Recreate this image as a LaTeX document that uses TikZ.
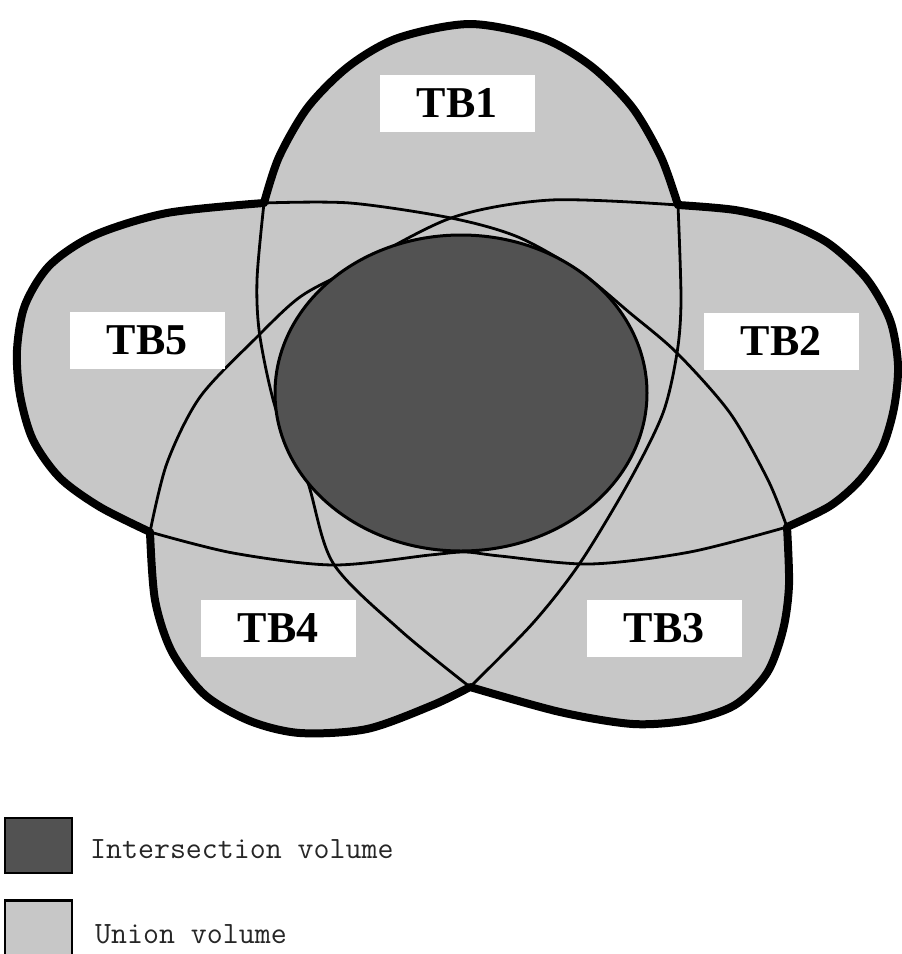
\documentclass[tikz,border=0pt]{standalone}
\usepackage{fontspec}
\usepackage{xcolor}
\usepackage{tikz}
\usetikzlibrary{positioning}
\newfontfamily\tbfont{Liberation Serif}
\definecolor{petal}{gray}{0.78}
\definecolor{coregray}{gray}{0.32}

\begin{document}
\begin{tikzpicture}[x=1pt,y=-1pt,
  rim/.style={draw=black,line width=8pt,line join=round,fill=petal},
  seam/.style={draw=black,line width=2.8pt},
  core/.style={draw=black,line width=3pt,fill=coregray},
  tag/.style={fill=white,inner sep=0pt,minimum width=155pt,minimum height=57pt,
    font=\tbfont\bfseries\fontsize{44}{50}\selectfont},
  swatch/.style={draw=black,line width=2.5pt,inner sep=0pt,minimum width=67pt,minimum height=55pt},
  keytext/.style={anchor=base west,inner sep=0pt,text=black!85,
    font=\ttfamily\fontsize{31}{36}\selectfont}]
\useasboundingbox (0,0) rectangle (902,954);
% crossings of the lobes on the rim
\coordinate (c1) at (264,203);
\coordinate (c2) at (678,205);
\coordinate (c3) at (787,527);
\coordinate (c4) at (470,687);
\coordinate (c5) at (150,532);
% union volume
\path[rim] plot[smooth] coordinates {(c1) (279,157) (308,107) (349,66) (398,38) (470,24) (542,38) (591,66) (632,107) (661,157) (c2)}
  -- plot[smooth] coordinates {(c2) (735,210) (784,222) (828,243) (866,278) (890,320) (898,365) (894,408) (882,448) (860,480) (830,506) (c3)}
  -- plot[smooth] coordinates {(c3) (789,585) (783,630) (767,673) (735,705) (690,720) (633,724) (560,712) (c4)}
  -- plot[smooth] coordinates {(c4) (433,705) (367,729) (300,733) (250,721) (205,695) (172,652) (155,600) (c5)}
  -- plot[smooth] coordinates {(c5) (100,507) (60,478) (33,440) (20,395) (17,350) (25,305) (50,265) (95,235) (167,213) (c1)}
  -- cycle;
% inner seams
\draw[seam] plot[smooth] coordinates {(c2) (681,300) (677,353) (663,413) (630,480) (580,563) (533,623) (c4)};
\draw[seam] plot[smooth] coordinates {(c1) (257,280) (260,337) (277,413) (307,480) (333,563) (400,630) (c4)};
\draw[seam] plot[smooth] coordinates {(c5) (167,463) (200,397) (257,337) (300,297) (350,270) (451,218) (551,200) (c2)};
\draw[seam] plot[smooth] coordinates {(c1) (350,203) (451,218) (518,237) (580,272) (630,313) (677,353) (730,413) (768,480) (c3)};
\draw[seam] plot[smooth] coordinates {(c3) (690,552) (590,564) (500,556) (465,552) (430,555) (333,565) (233,553) (c5)};
% intersection volume
\draw[core] (461,393) ellipse [x radius=186,y radius=158];
% labels
\node[tag] (tb1) at (457,103) {TB1};
\node[tag] (tb2) at (781,341) {TB2};
\node[tag] (tb3) at (664,628) {TB3};
\node[tag] (tb4) at (278,628) {TB4};
\node[tag] (tb5) at (147,340) {TB5};
% legend
\node[swatch,fill=coregray] (keyI) at (38.5,845.5) {};
\node[swatch,fill=petal] (keyU) at (38.5,928) {};
\node[keytext] (keyItext) at (90,858) {Intersection volume};
\node[keytext] (keyUtext) at (95,943) {Union volume};
\end{tikzpicture}
\end{document}
